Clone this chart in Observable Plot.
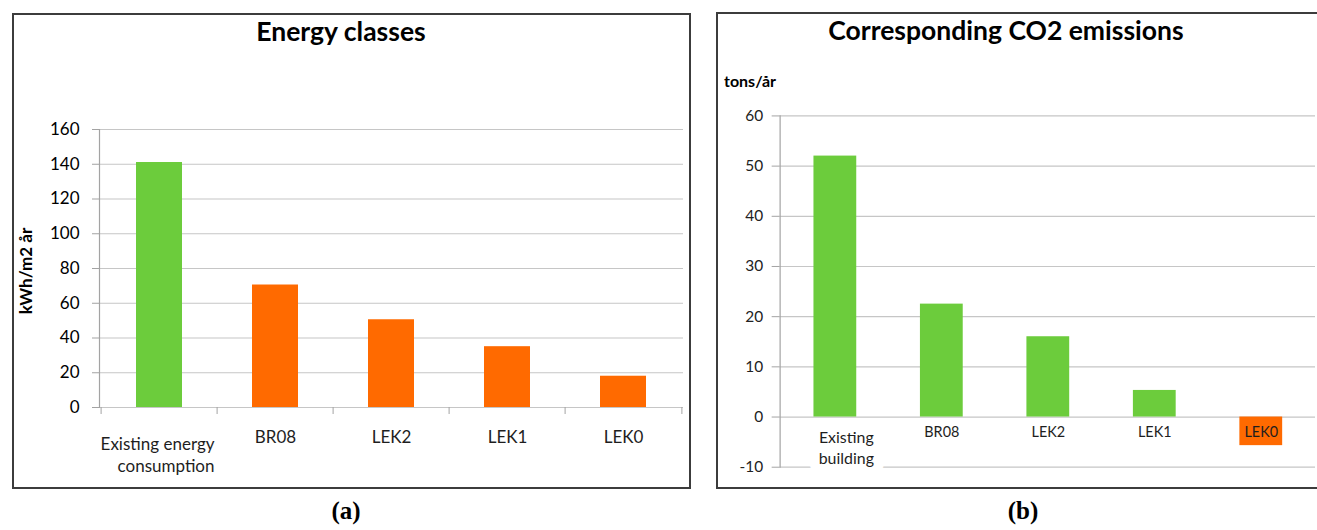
<!DOCTYPE html>
<html>
<head>
<meta charset="utf-8">
<script src="https://cdn.jsdelivr.net/npm/d3@7"></script>
<script src="https://cdn.jsdelivr.net/npm/@observablehq/plot@0.6"></script>
<style>
  html, body { margin: 0; padding: 0; background: #fff; }
  #root { position: relative; width: 1317px; height: 530px; overflow: hidden; background: #fff; font-family: Lato, "Open Sans", sans-serif; }
  .frame { position: absolute; border: 2px solid #3c3c3c; box-sizing: border-box; }
  .txt { position: absolute; line-height: 1; white-space: nowrap; color: #000; }
  .title { font-weight: 700; font-size: 26.5px; transform: translateX(-50%); }
  .cap { font-family: "Liberation Serif", "Times New Roman", serif; font-weight: 700; font-size: 25px; transform: translateX(-50%); }
  #a, #b { position: absolute; top: 0; }
</style>
</head>
<body>
<div id="root">
  <div class="frame" style="left:12px;top:13px;width:679px;height:476px"></div>
  <div class="frame" style="left:716px;top:12px;width:660px;height:477px"></div>
  <div id="a" style="left:0px"></div>
  <div id="b" style="left:700px"></div>
  <div class="txt title" style="left:341px;top:18px">Energy classes</div>
  <div class="txt title" style="left:1006px;top:17px">Corresponding CO2 emissions</div>
  <div class="txt" style="left:25px;top:271px;font-weight:700;font-size:17px;transform:translate(-50%,-50%) rotate(-90deg)">kWh/m2 år</div>
  <div class="txt" style="left:724px;top:73px;font-weight:700;font-size:16px">tons/år</div>
  <div class="txt cap" style="left:346px;top:498px">(a)</div>
  <div class="txt cap" style="left:1023px;top:498px">(b)</div>
</div>
<script>
// ---- Panel (a): Energy classes ----
const catsA = ["Existing energy\nconsumption", "BR08", "LEK2", "LEK1", "LEK0"];
const valuesA = [141, 70.5, 50.5, 35, 18];
const colorsA = ["#6ccc3c", "#ff6a00", "#ff6a00", "#ff6a00", "#ff6a00"];
const ticksA = [0, 20, 40, 60, 80, 100, 120, 140, 160];

// ---- Panel (b): Corresponding CO2 emissions ----
const catsB = ["Existing\nbuilding", "BR08", "LEK2", "LEK1", "LEK0"];
const valuesB = [52, 22.5, 16, 5.3, -5.7];
const colorsB = ["#6ccc3c", "#6ccc3c", "#6ccc3c", "#6ccc3c", "#ff6a00"];
const ticksB = [-10, 0, 10, 20, 30, 40, 50, 60];

const dataA = catsA.map((c, i) => ({cat: c, value: valuesA[i], color: colorsA[i]}));
const dataB = catsB.map((c, i) => ({cat: c, value: valuesB[i], color: colorsB[i]}));

const gridColor = "#c6c6c6";
const axisColor = "#a3a3a3";
const labelColor = "#1e1e1e";

// panel a layout
const wA = 700, hA = 530, mlA = 99, mrA = 17, mtA = 129, mbA = 123;
const stepA = (wA - mlA - mrA) / catsA.length;

const chartA = Plot.plot({
  width: wA, height: hA,
  marginLeft: mlA, marginRight: mrA, marginTop: mtA, marginBottom: mbA,
  style: {background: "none", fontFamily: "Lato, sans-serif", fontSize: "17px", overflow: "visible"},
  x: {domain: catsA, paddingInner: 0.6, paddingOuter: 0.3, axis: null, label: null},
  y: {domain: [0, 160], axis: null, label: null},
  color: {type: "identity"},
  marks: [
    Plot.ruleY(ticksA, {stroke: gridColor, strokeWidth: 1.2}),
    Plot.axisY(ticksA, {label: null, tickSize: 7, tickFormat: () => "", stroke: axisColor}),
    Plot.text(ticksA, {y: d => d, text: d => String(d), frameAnchor: "left", textAnchor: "end", dx: -20, fontSize: 17, fill: "#000"}),
    Plot.axisX(catsA, {label: null, anchor: "bottom", tickSize: 7, dx: -stepA / 2, tickFormat: () => "", stroke: axisColor}),
    Plot.axisX([catsA[catsA.length - 1]], {label: null, anchor: "bottom", tickSize: 7, dx: stepA / 2, tickFormat: () => "", stroke: axisColor}),
    Plot.frame({anchor: "left", stroke: axisColor, strokeWidth: 1.2}),
    Plot.barY(dataA, {x: "cat", y: "value", fill: "color"}),
    Plot.text(dataA.slice(0, 1), {x: "cat", y: () => 0, text: "cat", textAnchor: "end", dx: 55, dy: 27, lineAnchor: "top", lineHeight: 1.28, fontSize: 17, fill: labelColor}),
    Plot.text(dataA.slice(1), {x: "cat", y: () => 0, text: "cat", lineAnchor: "top", dy: 23, fontSize: 17, fill: labelColor})
  ]
});
document.getElementById("a").appendChild(chartA);

// panel b layout
const wB = 620, hB = 530, mlB = 80, mrB = 2, mtB = 116, mbB = 61;

const chartB = Plot.plot({
  width: wB, height: hB,
  marginLeft: mlB, marginRight: mrB, marginTop: mtB, marginBottom: mbB,
  style: {background: "none", fontFamily: "Lato, sans-serif", fontSize: "15px", overflow: "visible"},
  x: {domain: catsB, paddingInner: 0.6, paddingOuter: 0.3, axis: null, label: null},
  y: {domain: [-10, 60], axis: null, label: null},
  color: {type: "identity"},
  marks: [
    Plot.ruleY(ticksB, {stroke: gridColor, strokeWidth: 1.2}),
    Plot.axisY(ticksB, {label: null, tickSize: 8, tickFormat: () => "", stroke: axisColor}),
    Plot.text(ticksB, {y: d => d, text: d => String(d), frameAnchor: "left", textAnchor: "end", dx: -17, fontSize: 15.5, fill: "#222"}),
    Plot.frame({anchor: "left", stroke: axisColor, strokeWidth: 1.2}),
    Plot.barY(dataB, {x: "cat", y: "value", fill: "color"}),
    Plot.text(dataB.slice(0, 1), {x: "cat", y: () => 0, text: "cat", dx: 11, dy: 11, lineAnchor: "top", lineHeight: 1.31, fontSize: 16, fill: labelColor, stroke: "white", strokeWidth: 20}),
    Plot.text(dataB.slice(1), {x: "cat", y: () => 0, text: "cat", lineAnchor: "top", dy: 10, fontSize: 14.5, fill: labelColor})
  ]
});
document.getElementById("b").appendChild(chartB);
</script>
</body>
</html>
